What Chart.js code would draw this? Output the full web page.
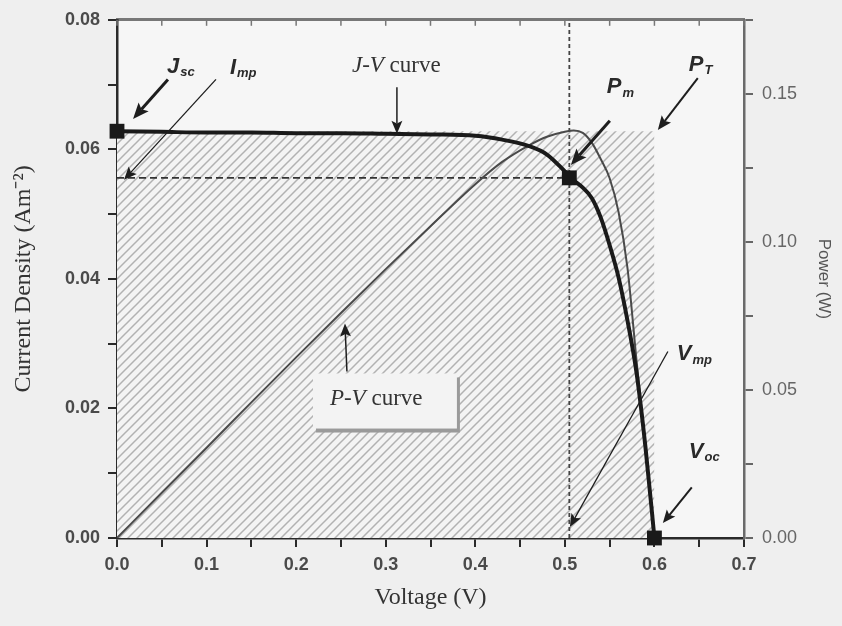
<!DOCTYPE html>
<html>
<head>
<meta charset="utf-8">
<script src="https://cdn.jsdelivr.net/npm/chart.js@4.4.1/dist/chart.umd.min.js"></script>
<style>
  html, body { margin: 0; padding: 0; background: #eeeeee; }
  #wrap { width: 842px; height: 626px; }
</style>
</head>
<body>
<div id="wrap"><canvas id="ivChart" width="842" height="626"></canvas></div>
<script>
// J-V and P-V characteristics of the cell
const voltage        = [0, 0.05, 0.10, 0.15, 0.20, 0.25, 0.30, 0.35, 0.40, 0.43, 0.46, 0.48, 0.50, 0.51, 0.52, 0.53, 0.54, 0.55, 0.56, 0.57, 0.58, 0.59, 0.60];
const currentDensity = [0.0628, 0.0627, 0.0626, 0.0626, 0.0625, 0.0625, 0.0624, 0.0623, 0.0621, 0.0615, 0.0605, 0.0592, 0.0566, 0.0552, 0.0541, 0.0525, 0.0495, 0.0452, 0.0402, 0.0335, 0.0255, 0.0140, 0];
const power          = [0, 0.0153, 0.0305, 0.0458, 0.0610, 0.0760, 0.0908, 0.1053, 0.1195, 0.1270, 0.1326, 0.1355, 0.1372, 0.1376, 0.1368, 0.1335, 0.1280, 0.1215, 0.1100, 0.0910, 0.0600, 0.0310, 0];

// characteristic points
const JSC = 0.0628;   // short-circuit current density
const VOC = 0.60;     // open-circuit voltage
const VMP = 0.505;    // voltage at maximum power
const IMP = 0.0556;   // current density at maximum power

// axis ranges and tick steps
const xRange = [0, 0.7],   xStep = 0.05,  xLabelStep = 0.1;
const yRange = [0, 0.08],  yStep = 0.01,  yLabelStep = 0.02;
const pRange = [0, 0.175], pStep = 0.025, pLabelStep = 0.05;

const pts = (xs, ys) => xs.map((x, i) => ({ x: x, y: ys[i] }));
const onStep = (v, step) => Math.abs(v / step - Math.round(v / step)) < 1e-6;
const stepTicks = (range, step) => s => {
  s.ticks = [];
  for (let v = range[0]; v <= range[1] + 1e-9; v += step) s.ticks.push({ value: +v.toFixed(3) });
};

const canvas = document.getElementById('ivChart');
const ctx = canvas.getContext('2d');

// diagonal hatching for the Voc x Jsc rectangle
function hatchPattern() {
  const c = document.createElement('canvas');
  c.width = 9; c.height = 9;
  const g = c.getContext('2d');
  g.fillStyle = '#f4f4f4';
  g.fillRect(0, 0, 9, 9);
  g.strokeStyle = '#b2b2b2';
  g.lineWidth = 1.5;
  g.beginPath();
  g.moveTo(-1, 10); g.lineTo(10, -1);
  g.moveTo(-1, 1);  g.lineTo(1, -1);
  g.moveTo(8, 10);  g.lineTo(10, 8);
  g.stroke();
  return ctx.createPattern(c, 'repeat');
}

const SANS = '"Liberation Sans", Arial, sans-serif';
const SERIF = '"Liberation Serif", "Times New Roman", serif';

// arrows (in V / A m^-2 units)
const arrows = [
  { from: [0.0569, 0.0708], to: [0.0179, 0.0647], w: 3,   head: 16 },
  { from: [0.1105, 0.0708], to: [0.0078, 0.0553], w: 1.3, head: 13 },
  { from: [0.3125, 0.0696], to: [0.3125, 0.0624], w: 1.5, head: 13 },
  { from: [0.2567, 0.0257], to: [0.2545, 0.0331], w: 1.5, head: 13 },
  { from: [0.5502, 0.0644], to: [0.5067, 0.0576], w: 3,   head: 16 },
  { from: [0.6484, 0.0710], to: [0.6038, 0.0630], w: 2,   head: 14 },
  { from: [0.6150, 0.0288], to: [0.5056, 0.0017], w: 1.3, head: 13 },
  { from: [0.6417, 0.0078], to: [0.6094, 0.0023], w: 2,   head: 13 }
];

// symbol labels with subscripts
const symbols = [
  { at: [0.0558, 0.0728], main: 'J', sub: 'sc' },
  { at: [0.1261, 0.0726], main: 'I', sub: 'mp' },
  { at: [0.5469, 0.0696], main: 'P', sub: 'm' },
  { at: [0.6384, 0.0731], main: 'P', sub: 'T' },
  { at: [0.6250, 0.0284], main: 'V', sub: 'mp' },
  { at: [0.6384, 0.0133], main: 'V', sub: 'oc' }
];

const curveLabels = [
  { at: [0.2623, 0.0728], italic: 'J-V', rest: ' curve' },
  { at: [0.2377, 0.0215], italic: 'P-V', rest: ' curve', box: [0.2188, 0.0254, 0.3795, 0.0169] }
];

const decorations = {
  id: 'decorations',
  beforeDraw(chart) {
    const { ctx, chartArea: a } = chart;
    ctx.save();
    ctx.fillStyle = '#efefef';
    ctx.fillRect(0, 0, chart.width, chart.height);
    ctx.fillStyle = '#f6f6f6';
    ctx.fillRect(a.left, a.top, a.right - a.left, a.bottom - a.top);
    ctx.restore();
  },
  afterDatasetsDraw(chart) {
    const { ctx, chartArea: a } = chart;
    const xs = chart.scales.x, ys = chart.scales.y;
    const px = v => xs.getPixelForValue(v);
    const py = v => ys.getPixelForValue(v);
    ctx.save();

    // inward ticks along the top frame
    ctx.strokeStyle = '#777';
    ctx.lineWidth = 1.5;
    for (let v = xRange[0]; v <= xRange[1] + 1e-9; v += xStep) {
      ctx.beginPath();
      ctx.moveTo(px(v), a.top);
      ctx.lineTo(px(v), a.top + 6);
      ctx.stroke();
    }

    // P-V label box with shadow
    curveLabels.forEach(l => {
      if (!l.box) return;
      const x0 = px(l.box[0]), y0 = py(l.box[1]), x1 = px(l.box[2]), y1 = py(l.box[3]);
      ctx.fillStyle = '#9a9a9a';
      ctx.fillRect(x0 + 3, y0 + 4, x1 - x0, y1 - y0);
      ctx.fillStyle = '#f3f3f3';
      ctx.fillRect(x0, y0, x1 - x0, y1 - y0);
    });

    // arrows
    ctx.strokeStyle = '#1e1e1e';
    ctx.fillStyle = '#1e1e1e';
    arrows.forEach(ar => {
      const x0 = px(ar.from[0]), y0 = py(ar.from[1]);
      const x1 = px(ar.to[0]), y1 = py(ar.to[1]);
      const ang = Math.atan2(y1 - y0, x1 - x0);
      const cs = Math.cos(ang), sn = Math.sin(ang);
      const h = ar.head, hw = ar.head * 0.42;
      ctx.lineWidth = ar.w;
      ctx.beginPath();
      ctx.moveTo(x0, y0);
      ctx.lineTo(x1 - cs * h * 0.8, y1 - sn * h * 0.8);
      ctx.stroke();
      ctx.beginPath();
      ctx.moveTo(x1, y1);
      ctx.lineTo(x1 - cs * h - sn * hw, y1 - sn * h + cs * hw);
      ctx.lineTo(x1 - cs * h * 0.8, y1 - sn * h * 0.8);
      ctx.lineTo(x1 - cs * h + sn * hw, y1 - sn * h - cs * hw);
      ctx.closePath();
      ctx.fill();
    });

    // symbols
    ctx.fillStyle = '#2a2a2a';
    ctx.textBaseline = 'middle';
    ctx.textAlign = 'left';
    symbols.forEach(s => {
      const x = px(s.at[0]), y = py(s.at[1]);
      ctx.font = 'italic bold 22px ' + SANS;
      ctx.fillText(s.main, x, y);
      const w = ctx.measureText(s.main).width;
      ctx.font = 'italic bold 13px ' + SANS;
      ctx.fillText(s.sub, x + w + 1, y + 6);
    });

    // curve names
    ctx.fillStyle = '#333';
    curveLabels.forEach(l => {
      const x = px(l.at[0]), y = py(l.at[1]);
      ctx.font = 'italic 23px ' + SERIF;
      ctx.fillText(l.italic, x, y);
      const w = ctx.measureText(l.italic).width;
      ctx.font = '23px ' + SERIF;
      ctx.fillText(l.rest, x + w, y);
    });

    ctx.restore();
  }
};

new Chart(canvas, {
  type: 'scatter',
  data: {
    datasets: [
      {
        // characteristic points
        data: [{ x: 0, y: JSC }, { x: VMP, y: IMP }, { x: VOC, y: 0 }],
        pointStyle: 'rect',
        pointRadius: 10.5,
        backgroundColor: '#1a1a1a',
        borderColor: '#1a1a1a',
        borderWidth: 0,
        clip: false,
        order: 0
      },
      {
        label: 'J-V curve',
        data: pts(voltage, currentDensity),
        showLine: true,
        borderColor: '#1a1a1a',
        borderWidth: 4,
        pointRadius: 0,
        cubicInterpolationMode: 'monotone',
        order: 1
      },
      {
        label: 'P-V curve',
        data: pts(voltage, power),
        yAxisID: 'y2',
        showLine: true,
        borderColor: '#4a4a4a',
        borderWidth: 2,
        pointRadius: 0,
        cubicInterpolationMode: 'monotone',
        order: 2
      },
      {
        // Imp level
        data: [{ x: 0, y: IMP }, { x: VMP, y: IMP }],
        showLine: true,
        borderColor: '#333',
        borderWidth: 1.8,
        borderDash: [7, 4],
        pointRadius: 0,
        order: 3
      },
      {
        // Vmp level
        data: [{ x: VMP, y: yRange[0] }, { x: VMP, y: yRange[1] }],
        showLine: true,
        borderColor: '#444',
        borderWidth: 1.8,
        borderDash: [4, 3],
        pointRadius: 0,
        order: 3
      },
      {
        // Voc x Jsc rectangle
        data: [{ x: 0, y: JSC }, { x: VOC, y: JSC }],
        showLine: true,
        fill: 'origin',
        backgroundColor: hatchPattern(),
        borderWidth: 0,
        borderColor: 'rgba(0,0,0,0)',
        pointRadius: 0,
        order: 4
      }
    ]
  },
  options: {
    responsive: false,
    animation: false,
    layout: { padding: { top: 16, left: 0, right: 0, bottom: 0 } },
    plugins: { legend: { display: false }, tooltip: { enabled: false } },
    scales: {
      x: {
        type: 'linear',
        position: 'bottom',
        min: xRange[0], max: xRange[1],
        afterBuildTicks: stepTicks(xRange, xStep),
        ticks: {
          autoSkip: false, maxRotation: 0,
          callback: v => onStep(v, xLabelStep) ? v.toFixed(1) : '',
          color: '#4a4a4a',
          font: { family: SANS, size: 18, weight: 'bold' },
          padding: 7
        },
        grid: { drawOnChartArea: false, tickLength: 9, color: '#2a2a2a', lineWidth: 2 },
        border: { color: '#2a2a2a', width: 2.5 },
        title: {
          display: true, text: 'Voltage (V)', color: '#333',
          font: { family: SERIF, size: 24 },
          padding: { top: 0, bottom: 14 }
        },
        afterFit: s => { s.height = 88; }
      },
      x2: {
        type: 'linear',
        position: 'top',
        min: xRange[0], max: xRange[1],
        ticks: { display: false },
        grid: { drawOnChartArea: false, drawTicks: false },
        border: { color: '#777', width: 3 },
        afterFit: s => { s.height = 0; }
      },
      y: {
        type: 'linear',
        position: 'left',
        min: yRange[0], max: yRange[1],
        afterBuildTicks: stepTicks(yRange, yStep),
        ticks: {
          autoSkip: false,
          callback: v => onStep(v, yLabelStep) ? v.toFixed(2) : '',
          color: '#4a4a4a',
          font: { family: SANS, size: 18, weight: 'bold' },
          padding: 8
        },
        grid: { drawOnChartArea: false, tickLength: 9, color: '#2a2a2a', lineWidth: 2 },
        border: { color: '#2a2a2a', width: 2.5 },
        title: {
          display: true, text: 'Current Density (Am\u207B\u00B2)', color: '#333',
          font: { family: SERIF, size: 24 },
          padding: { top: 9, bottom: 0 }
        },
        afterFit: s => { s.width = 117; }
      },
      y2: {
        type: 'linear',
        position: 'right',
        min: pRange[0], max: pRange[1],
        afterBuildTicks: stepTicks(pRange, pStep),
        ticks: {
          autoSkip: false,
          callback: v => onStep(v, pLabelStep) ? v.toFixed(2) : '',
          color: '#666',
          font: { family: SANS, size: 18 },
          padding: 9
        },
        grid: { drawOnChartArea: false, tickLength: 9, color: '#666', lineWidth: 2 },
        border: { color: '#6a6a6a', width: 2.5 },
        title: {
          display: true, text: 'Power (W)', color: '#555',
          font: { family: SANS, size: 17 },
          padding: { top: 8, bottom: 0 }
        },
        afterFit: s => { s.width = 98; }
      }
    }
  },
  plugins: [decorations]
});
</script>
</body>
</html>
